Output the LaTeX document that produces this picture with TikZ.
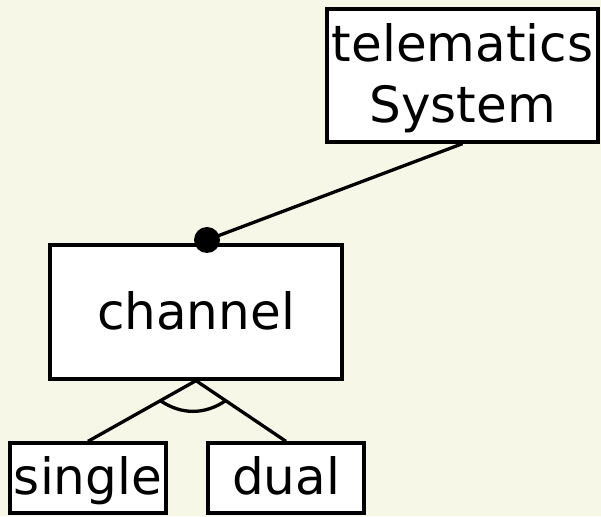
\documentclass[tikz,border=0pt]{standalone}
\usepackage{fontspec}
\setmainfont{DejaVu Sans}
\usetikzlibrary{calc}
\definecolor{bgc}{RGB}{247,247,231}
\begin{document}
\begin{tikzpicture}[x=1pt,y=1pt,
  feat/.style={draw=black, fill=white, line width=3.3pt, inner sep=0pt, font=\fontsize{50}{61}\selectfont},
  conn/.style={draw=black, line width=3.3pt}]
\fill[bgc] (0,0) rectangle (601,516);
\useasboundingbox (0,0) rectangle (601,516);
\node[feat, minimum width=271pt, minimum height=133pt, align=center, text height=107pt, text depth=12pt] (tel) at (462.5,440.5) {telematics\\System};
\node[feat, minimum width=292pt, minimum height=134pt, text height=44pt, text depth=8pt] (ch) at (196,204) {channel};
\node[feat, minimum width=156pt, minimum height=70pt, text height=44pt, text depth=12pt] (si) at (88,38) {single};
\node[feat, minimum width=156pt, minimum height=70pt, text height=44pt, text depth=12pt] (du) at (286,38) {dual};
\coordinate (dot) at (207,276);
\draw[conn] (tel.south) -- (dot);
\fill[black] (dot) circle[radius=13pt];
\draw[conn] (ch.south) -- (si.north);
\draw[conn] (ch.south) -- (du.north);
\coordinate (arcL) at ($(ch.south)!0.33!(si.north)$);
\coordinate (arcR) at ($(ch.south)!0.33!(du.north)$);
\draw[conn] (arcL) to[bend right=34] (arcR);
\end{tikzpicture}
\end{document}
